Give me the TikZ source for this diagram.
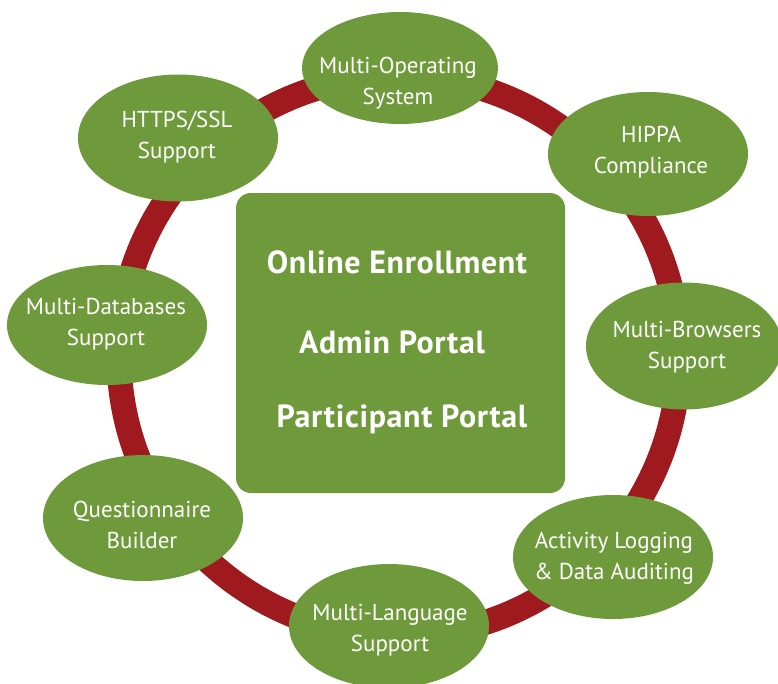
\documentclass[tikz,border=0pt]{standalone}
\usepackage{fontspec}
\setmainfont{PT Sans}
\usetikzlibrary{shapes.geometric}
\definecolor{leaf}{HTML}{6F9A3B}
\definecolor{ringred}{HTML}{9E1A1F}
\begin{document}
\begin{tikzpicture}[x=1pt,y=-1pt,
  feat/.style={ellipse,fill=leaf,inner sep=0pt,minimum width=200pt,minimum height=124pt},
  ftxt/.style={text=white,align=center,inner sep=0pt,font=\fontsize{23}{31}\selectfont},
  big/.style={text=white,anchor=base,font=\fontsize{32}{36}\selectfont\bfseries\addfontfeature{LetterSpace=2}}]
\useasboundingbox (0,0) rectangle (778,683);
\fill[white] (0,0) rectangle (778,683);
% ring
\draw[ringred,line width=25pt] (399,356) circle (280);
% centre box
\node[fill=leaf,rounded corners=15pt,minimum width=329pt,minimum height=300pt,inner sep=0pt] (core) at (400.5,343) {};
\node[big] (t1) at (397,273) {Online Enrollment};
\node[big] (t2) at (392,353) {Admin Portal};
\node[big] (t3) at (402,427) {Participant Portal};
% features
\node[feat,minimum width=196pt,minimum height=112pt] (os) at (400,68) {};
\node[ftxt] (ost) at (398,83) {Multi-Operating\\System};
\node[feat] (hip) at (648,154) {};
\node[ftxt] (hipt) at (651,152) {HIPPA\\Compliance};
\node[feat,minimum width=196pt,minimum height=127pt] (mb) at (684,346) {};
\node[ftxt] (mbt) at (687,347) {Multi-Browsers\\Support};
\node[feat] (act) at (613,557) {};
\node[ftxt] (actt) at (614,558) {Activity Logging\\\& Data Auditing};
\node[feat] (ml) at (389,626) {};
\node[ftxt] (mlt) at (390,630) {Multi-Language\\Support};
\node[feat,minimum height=126pt] (qb) at (143,518) {};
\node[ftxt] (qbt) at (142,525) {Questionnaire\\Builder};
\node[feat,minimum height=120pt] (db) at (107,325) {};
\node[ftxt] (dbt) at (106,324) {Multi-Databases\\Support};
\node[feat,minimum height=127pt] (ssl) at (178,138) {};
\node[ftxt] (sslt) at (177,137) {HTTPS/SSL\\Support};
\end{tikzpicture}
\end{document}
